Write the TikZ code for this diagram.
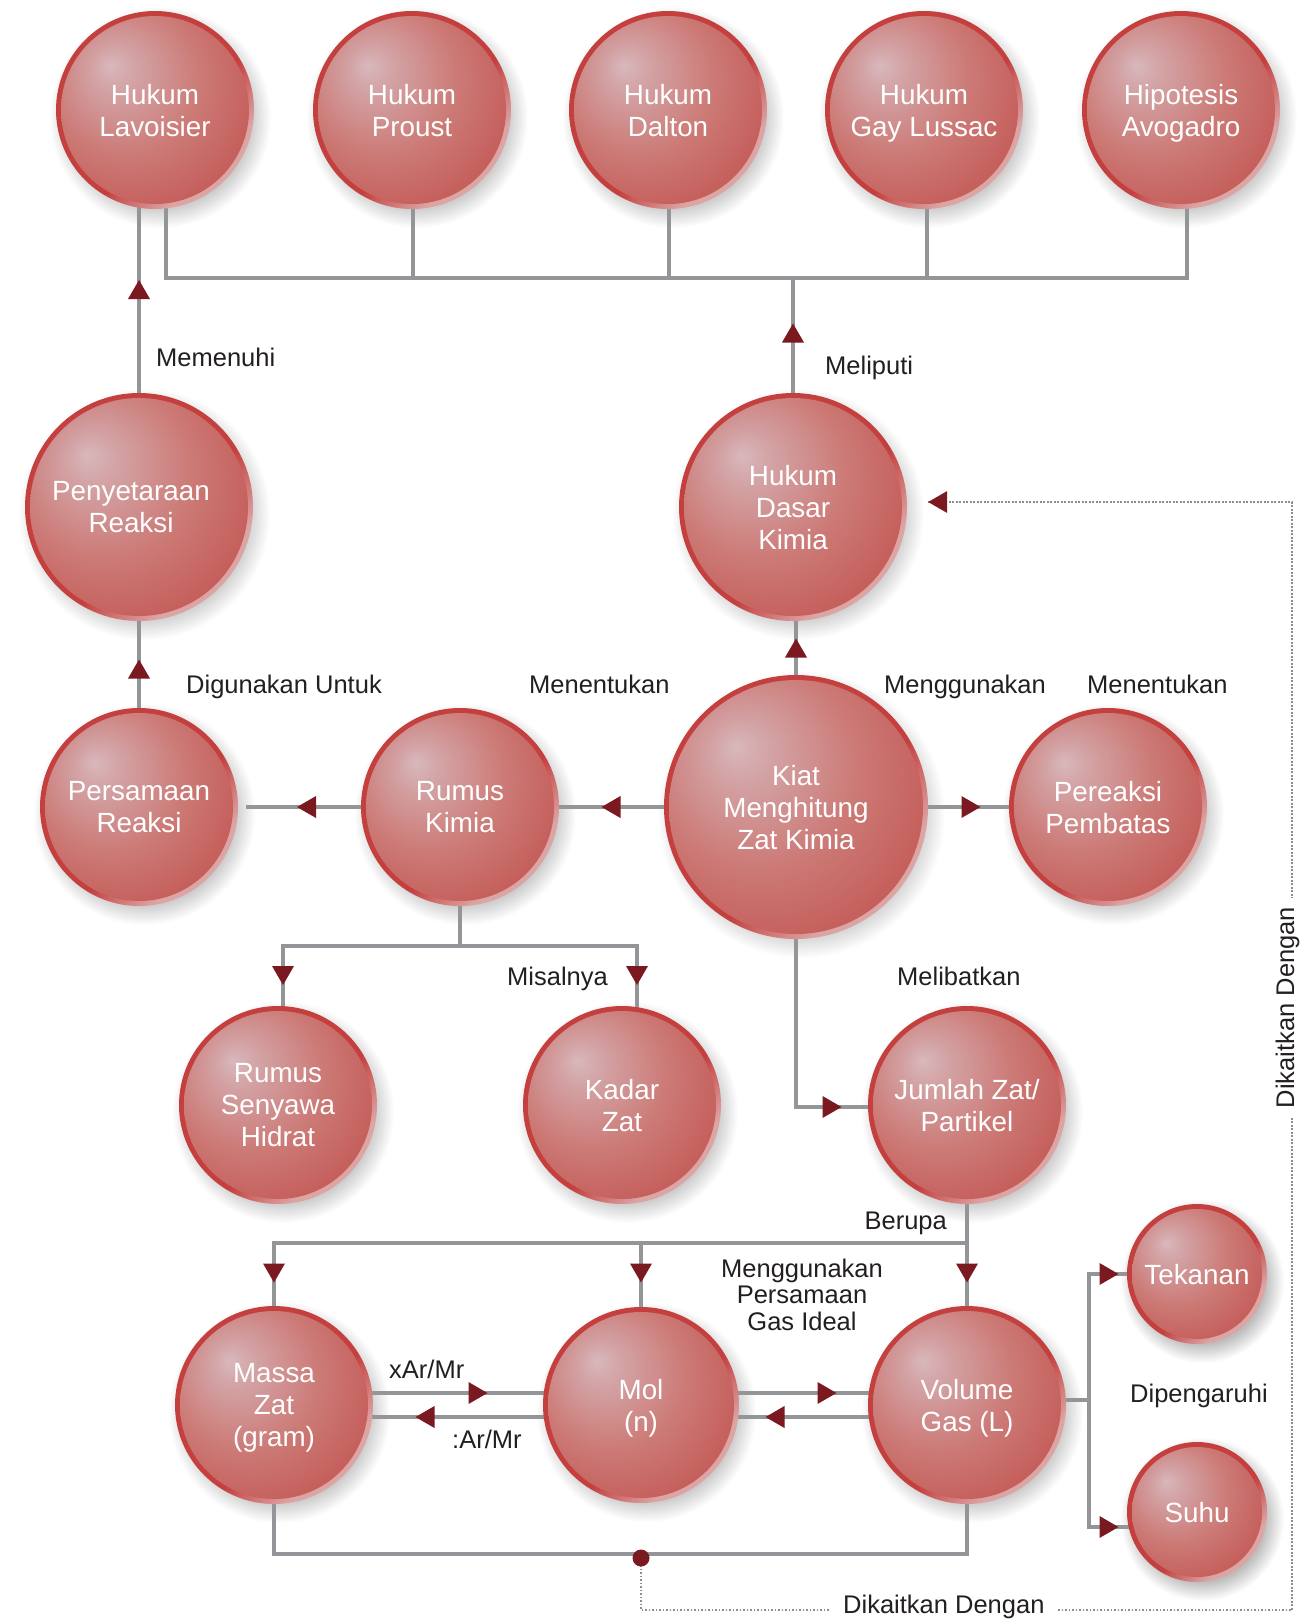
\documentclass[tikz,border=0pt]{standalone}
\usepackage{fontspec}
\setmainfont{Liberation Sans}
\usetikzlibrary{calc,decorations.markings}
\definecolor{ballhl}{HTML}{D8B8BC}
\definecolor{ballhlb}{HTML}{D3A2A4}
\definecolor{ballmid}{HTML}{CC7A76}
\definecolor{balldk}{HTML}{BF4A47}
\definecolor{ringdk}{HTML}{C4403F}
\definecolor{ringlt}{HTML}{DDA4A4}
\definecolor{shcol}{HTML}{BDBDBD}
\definecolor{conncol}{HTML}{939598}
\definecolor{dotcol}{HTML}{8E8E8E}
\definecolor{tipred}{HTML}{7A1A20}
\definecolor{labcol}{HTML}{231F20}
\pgfdeclareradialshading{ballsh}{\pgfpoint{-12bp}{12bp}}{color(0bp)=(ballhl); color(6bp)=(ballhlb); color(20bp)=(ballmid); color(42bp)=(balldk); color(60bp)=(balldk)}
\pgfdeclareradialshading{shadowsh}{\pgfpointorigin}{color(0bp)=(shcol); color(19bp)=(shcol); color(25bp)=(white); color(50bp)=(white)}
\pgfdeclareverticalshading{ringsh}{100bp}{color(0bp)=(ringlt); color(30bp)=(ringlt); color(44bp)=(ringdk); color(100bp)=(ringdk)}
\pgfdeclarelayer{bglayer}
\pgfdeclarelayer{shadowlayer}
\pgfdeclarelayer{linelayer}
\pgfsetlayers{bglayer,shadowlayer,linelayer,main}
\newcommand\kball[5]{%
  \begin{pgfonlayer}{shadowlayer}
    \shade[shading=shadowsh] (#2+5,#3+7) circle[radius=#4+12];
  \end{pgfonlayer}
  \shade[shading=ringsh, shading angle=45] (#2,#3) circle[radius=#4];
  \shade[shading=ballsh] (#2,#3) circle[radius=#4-5];
  \node[balltext, minimum size={2*#4}] (#1) at (#2,#3) {#5};
}
\begin{document}
\begin{tikzpicture}[x=1pt,y=-1pt,
  balltext/.style={circle, inner sep=0pt, align=center, text=white, text depth=0pt,
    font=\fontsize{27.8}{32}\selectfont},
  conn/.style={draw=conncol, line width=3.2pt},
  dotline/.style={draw=dotcol, line width=1.7pt, dash pattern=on 1.7pt off 1.8pt},
  tipat/.style={postaction={decorate, decoration={markings,
    mark=at position #1 with {\fill[tipred] (9.5,0) -- (-9.5,11) -- (-9.5,-11) -- cycle;}}}},
  lbl/.style={font=\fontsize{25.5}{30}\selectfont, text=labcol, inner sep=0pt}]
\begin{pgfonlayer}{bglayer}
  \fill[white] (0,0) rectangle (1312,1620);
\end{pgfonlayer}
\useasboundingbox (0,0) rectangle (1312,1620);

% circles
\kball{Lav}{155}{110}{99}{Hukum\\Lavoisier}
\kball{Pro}{412}{110}{99}{Hukum\\Proust}
\kball{Dal}{668}{110}{99}{Hukum\\Dalton}
\kball{Gay}{924}{110}{99}{Hukum\\Gay Lussac}
\kball{Avo}{1181}{110}{99}{Hipotesis\\Avogadro}
\kball{Peny}{139}{507}{114}{Penyetaraan\hspace*{16pt}\\Reaksi\hspace*{16pt}}
\kball{HDK}{793}{507}{114}{Hukum\\Dasar\\Kimia}
\kball{Pers}{139}{807}{99}{Persamaan\\Reaksi}
\kball{Rum}{460}{807}{99}{Rumus\\Kimia}
\kball{Kiat}{796}{807}{132}{Kiat\\Menghitung\\Zat Kimia}
\kball{Pere}{1108}{807}{99}{Pereaksi\\Pembatas}
\kball{Hid}{278}{1105}{99}{Rumus\\Senyawa\\Hidrat}
\kball{Kad}{622}{1105}{99}{Kadar\\Zat}
\kball{Jum}{967}{1105}{99}{Jumlah Zat/\\Partikel}
\kball{Mas}{274}{1405}{99}{Massa\\Zat\\(gram)}
\kball{Mol}{641}{1405}{98}{Mol\\(n)}
\kball{Vol}{967}{1405}{99}{Volume\\Gas (L)}
\kball{Tek}{1197}{1274}{70}{Tekanan}
\kball{Suh}{1197}{1512}{70}{Suhu}

% junction coordinates
\coordinate (busR) at (1187,278);
\coordinate (rk) at (460,946);
\coordinate (jb) at (967,1243);
\coordinate (vj) at (1089,1400);
\coordinate (bb) at (967,1554);
\coordinate (dcB) at (1292,1610);
\coordinate (dcT) at ($(HDK.east)+(21,-5)$);

\node[circle, fill=tipred, minimum size=17pt, inner sep=0pt] (dot) at (641,1558) {};

\begin{pgfonlayer}{linelayer}
  % top bus
  \draw[conn] ([xshift=11pt]Lav.center) |- (busR) -- (busR |- Avo.center);
  \draw[conn] ([xshift=1pt]Pro.center) -- ([xshift=1pt]Pro.center |- busR);
  \draw[conn] ([xshift=1pt]Dal.center) -- ([xshift=1pt]Dal.center |- busR);
  \draw[conn] ([xshift=3pt]Gay.center) -- ([xshift=3pt]Gay.center |- busR);
  \draw[conn, tipat=174pt] (HDK.center) -- (HDK.center |- busR);
  \draw[conn, tipat=217.5pt] (Peny.center) -- (Peny.center |- Lav.center);
  % middle
  \draw[conn, tipat=138pt] (Pers.center) -- (Pers.center |- Peny.center);
  \draw[conn, tipat=159pt] (Kiat.center) -- (Kiat.center |- HDK.center);
  \draw[conn, tipat=185pt] (Kiat.center) -- (Rum.center);
  \draw[conn, tipat=153.5pt] (Rum.center) -- ($(Pers.east)+(8,0)$);
  \draw[conn, tipat=175pt] (Kiat.center) -- (Pere.center);
  % Rumus branches
  \draw[conn] (Rum.center) -- (rk);
  \draw[conn, tipat=206.5pt] (rk) -| ([xshift=5pt]Hid.center);
  \draw[conn, tipat=206.5pt] (rk) -| ([xshift=15pt]Kad.center);
  % Kiat to Jumlah
  \draw[conn, tipat=336pt] (Kiat.center) |- ([yshift=-2pt]Jum.center);
  % Jumlah to bottom row
  \draw[conn] (Jum.center) -- (jb);
  \draw[conn, tipat=723pt] (jb) -| (Mas.center);
  \draw[conn, tipat=356pt] (jb) -| (Mol.center);
  \draw[conn, tipat=30pt] (jb) -- (Vol.center);
  % Massa <-> Mol <-> Volume
  \draw[conn, tipat=204pt] ([yshift=12pt]Mas.center) -- ([yshift=12pt]Mol.center);
  \draw[conn, tipat=216pt] ([yshift=-12pt]Mol.center) -- ([yshift=-12pt]Mas.center);
  \draw[conn, tipat=186pt] ([yshift=12pt]Mol.center) -- ([yshift=12pt]Vol.center);
  \draw[conn, tipat=192pt] ([yshift=-12pt]Vol.center) -- ([yshift=-12pt]Mol.center);
  % Volume to Tekanan / Suhu
  \draw[conn] ([yshift=5pt]Vol.center) -- (vj);
  \draw[conn, tipat=146pt] (vj) |- (Tek.center);
  \draw[conn, tipat=147pt] (vj) |- ([yshift=-15pt]Suh.center);
  % bottom bracket
  \draw[conn] (Mas.center) |- (bb) -- (Vol.center);
  % dotted link back to Hukum Dasar Kimia
  \draw[dotline, tipat=-9.5pt] (dot.center) |- (dcB) |- (dcT);
\end{pgfonlayer}

% labels
\node[lbl, anchor=base west] (lMemenuhi) at (156,366) {Memenuhi};
\node[lbl, anchor=base west] (lMeliputi) at (825,374) {Meliputi};
\node[lbl, anchor=base west] (lDigunakan) at (186,693) {Digunakan Untuk};
\node[lbl, anchor=base west] (lMenentukanA) at (529,693) {Menentukan};
\node[lbl, anchor=base west] (lMenggunakan) at (884,693) {Menggunakan};
\node[lbl, anchor=base west] (lMenentukanB) at (1087,693) {Menentukan};
\node[lbl, anchor=base east] (lMisalnya) at (608,985) {Misalnya};
\node[lbl, anchor=base west] (lMelibatkan) at (897,985) {Melibatkan};
\node[lbl, anchor=base east] (lBerupa) at (947,1229) {Berupa};
\node[lbl, anchor=base, font=\fontsize{25.5}{26.5}\selectfont] (lGas) at (802,1277)
  {\begin{tabular}[t]{@{}c@{}}Menggunakan\\Persamaan\\Gas Ideal\end{tabular}};
\node[lbl, anchor=base west] (lxAr) at (389,1378) {xAr/Mr};
\node[lbl, anchor=base west] (lAr) at (452,1448) {:Ar/Mr};
\node[lbl, anchor=base west] (lDip) at (1130,1402) {Dipengaruhi};
\node[lbl, anchor=base west, fill=white, inner xsep=13pt, inner ysep=1.5pt] (lDikB) at (830,1613) {Dikaitkan Dengan};
\node[lbl, rotate=90, anchor=base, fill=white, inner xsep=9pt, inner ysep=1pt] (lDikR) at (1294,1007.5) {Dikaitkan Dengan};
\end{tikzpicture}
\end{document}
